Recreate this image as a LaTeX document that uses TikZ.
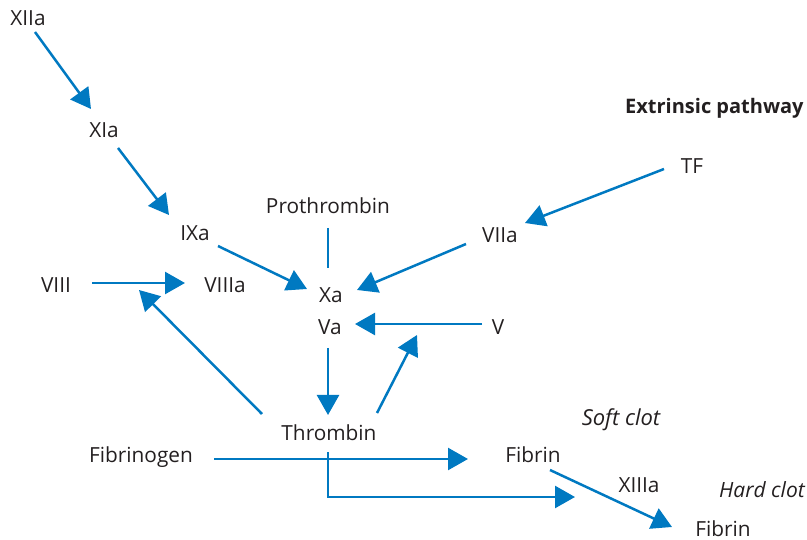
\documentclass[tikz,border=0pt]{standalone}
\usepackage{fontspec}
\setmainfont{Open Sans}
\usetikzlibrary{arrows.meta,calc}
\definecolor{arrblue}{RGB}{0,121,193}
\definecolor{txt}{RGB}{35,31,32}
\begin{document}
\begin{tikzpicture}[x=1pt,y=-1pt,
  lbl/.style={anchor=base,inner sep=0pt,text=txt,font=\fontsize{20.8}{24}\selectfont},
  lblit/.style={lbl,font=\fontsize{22}{26}\selectfont\itshape},
  lblbf/.style={anchor=base west,inner sep=0pt,text=txt,font=\fontsize{20}{24}\selectfont\bfseries},
  conn/.style={draw=arrblue,line width=2.5pt},
  arr/.style={conn,-{Triangle[length=20pt,width=22pt]}}]
\useasboundingbox (0,0) rectangle (807,540);
% labels
\node[lbl] (XIIa) at (28,26) {XIIa};
\node[lbl] (XIa) at (104,138) {XIa};
\node[lbl] (IXa) at (195,241) {IXa};
\node[lbl] (Pro) at (328,214) {Prothrombin};
\node[lbl] (VIIa) at (500,243) {VIIa};
\node[lbl] (TF) at (692,174) {TF};
\node[lblbf] (Ext) at (625,114) {Extrinsic pathway};
\node[lbl] (VIII) at (56,293) {VIII};
\node[lbl] (VIIIa) at (225,293) {VIIIa};
\node[lbl] (Xa) at (331,303) {Xa};
\node[lbl] (Va) at (330,335) {Va};
\node[lbl] (V) at (498,335) {V};
\node[lbl] (Thr) at (329,441) {Thrombin};
\node[lbl] (Fbg) at (141,463) {Fibrinogen};
\node[lbl] (Fb1) at (533,463) {Fibrin};
\node[lblit] (Soft) at (621,426) {Soft clot};
\node[lbl] (XIIIa) at (639,492) {XIIIa};
\node[lblit,anchor=base west,font=\fontsize{21}{24}\selectfont\itshape] (Hard) at (719,497) {Hard clot};
\node[lbl] (Fb2) at (723,536) {Fibrin};
% connectors
\draw[arr] ($(XIIa.base)+(7,6)$) -- ($(XIa.base)+(-13,-29)$);
\draw[arr] ($(XIa.base)+(14,10)$) -- ($(IXa.base)+(-26,-26)$);
\draw[arr] ($(IXa.base)+(23,5)$) -- ($(Xa.base)+(-24,-14)$);
\draw[conn] ($(Pro.base)+(0,14)$) -- ($(Xa.base)+(-3,-35)$);
\draw[arr] ($(VIIa.base)+(-34,1)$) -- ($(Xa.base)+(26,-13)$);
\draw[arr] ($(TF.base)+(-28,-5)$) -- ($(VIIa.base)+(25,-20)$);
\draw[arr] ($(VIII.base)+(36,-10)$) -- ($(VIIIa.base)+(-40,-10)$);
\draw[arr] ($(Thr.base)+(-67,-27)$) -- ($(VIIIa.base)+(-86,-3)$);
\draw[arr] ($(V.base)+(-16,-11)$) -- ($(Va.base)+(25,-11)$);
\draw[arr] ($(Va.base)+(-2,13)$) -- ($(Thr.base)+(-1,-26)$);
\coordinate (upV) at ($(Va.base)+(87,0)$);
\draw[arr] ($(Thr.base)+(48,-28)$) -- (upV);
\draw[arr] ($(Fbg.base)+(73,-4)$) -- ($(Fb1.base)+(-65,-4)$);
\coordinate (toXIII) at ($(XIIIa.base)+(-64,5)$);
\draw[arr] ($(Thr.base)+(-1,11)$) |- (toXIII);
\draw[arr] ($(Fb1.base)+(17,7)$) -- ($(Fb2.base)+(-51,-9)$);
\end{tikzpicture}
\end{document}
